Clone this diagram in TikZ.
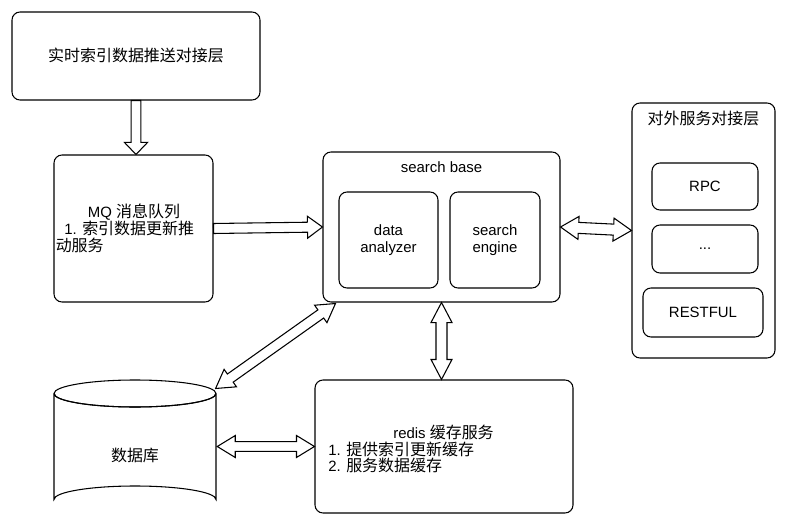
\documentclass[tikz,border=0pt]{standalone}
\usepackage{fontspec}
\setmainfont{Liberation Sans}
\newfontfamily\zh[Scale=1.07]{Noto Sans CJK SC}
\usetikzlibrary{calc}
\tikzset{
  rbox/.style={draw, line width=0.8pt, rounded corners=6pt, inner sep=0pt},
  barrow/.style={draw, line width=0.8pt, fill=white, line join=miter},
  txt/.style={inner sep=0pt, font=\fontsize{11.2}{12.4}\selectfont},
}
% double block arrow: from, to, head length, head half width, shaft half width (px)
\newcommand\dblarrow[5]{%
  \draw[barrow] let \p1=(#1), \p2=(#2), \n1={atan2(\y2-\y1,\x2-\x1)},
    \n2={veclen(\x2-\x1,\y2-\y1)} in [shift={(\p1)}, rotate=\n1]
    (0pt,0pt) -- ({#3*0.75pt},{#4*0.75pt}) -- ({#3*0.75pt},{#5*0.75pt})
    -- ({\n2-#3*0.75pt},{#5*0.75pt}) -- ({\n2-#3*0.75pt},{#4*0.75pt})
    -- ({\n2+0pt},0pt) -- ({\n2-#3*0.75pt},{-#4*0.75pt})
    -- ({\n2-#3*0.75pt},{-#5*0.75pt}) -- ({#3*0.75pt},{-#5*0.75pt})
    -- ({#3*0.75pt},{-#4*0.75pt}) -- cycle;}
% single block arrow
\newcommand\sglarrow[5]{%
  \draw[barrow] let \p1=(#1), \p2=(#2), \n1={atan2(\y2-\y1,\x2-\x1)},
    \n2={veclen(\x2-\x1,\y2-\y1)} in [shift={(\p1)}, rotate=\n1]
    (0pt,{#5*0.75pt}) -- ({\n2-#3*0.75pt},{#5*0.75pt}) -- ({\n2-#3*0.75pt},{#4*0.75pt})
    -- ({\n2+0pt},0pt) -- ({\n2-#3*0.75pt},{-#4*0.75pt})
    -- ({\n2-#3*0.75pt},{-#5*0.75pt}) -- (0pt,{-#5*0.75pt}) -- cycle;}
\begin{document}
\begin{tikzpicture}[x=0.75pt, y=-0.75pt]
\useasboundingbox (0,0) rectangle (785,524);
% boxes
\node[rbox, minimum width={248*0.75pt}, minimum height={88*0.75pt}] (tp) at (136,56) {};
\node[txt] (tpt) at (136,55) {\zh 实时索引数据推送对接层};

\node[rbox, minimum width={159*0.75pt}, minimum height={147*0.75pt}] (mq) at (133.5,228.5) {};
\node[txt] (mqt1) at (134,212) {MQ {\zh 消息队列}};
\node[txt, anchor=west] (mqt2) at (64,228.5) {1. {\zh 索引数据更新推}};
\node[txt, anchor=west] (mqt3) at (55.5,245) {\zh 动服务};

\node[rbox, minimum width={237*0.75pt}, minimum height={150*0.75pt}] (sb) at (441.5,227) {};
\node[txt] (sbt) at (441.5,167) {search base};
\node[rbox, minimum width={99*0.75pt}, minimum height={96*0.75pt}] (da) at (388.5,240) {};
\node[txt, align=center] (dat) at (da.center) {data\\analyzer};
\node[rbox, minimum width={90*0.75pt}, minimum height={96*0.75pt}] (se) at (495,240) {};
\node[txt, align=center] (set) at (se.center) {search\\engine};

\node[rbox, minimum width={143*0.75pt}, minimum height={255*0.75pt}] (ext) at (703.5,230.5) {};
\node[txt] (extt) at (703.5,118) {\zh 对外服务对接层};
\node[rbox, minimum width={106*0.75pt}, minimum height={47*0.75pt}] (rpc) at (705,186.5) {};
\node[txt] (rpct) at (rpc.center) {RPC};
\node[rbox, minimum width={106*0.75pt}, minimum height={48*0.75pt}] (dots) at (705,249) {};
\node[txt] (dotst) at (dots.center) {...};
\node[rbox, minimum width={120*0.75pt}, minimum height={49*0.75pt}] (rest) at (703,312.5) {};
\node[txt] (restt) at (rest.center) {RESTFUL};

\node[rbox, minimum width={258*0.75pt}, minimum height={133*0.75pt}] (redis) at (444,446.5) {};
\node[txt] (rt1) at (443.5,432) {redis {\zh 缓存服务}};
\node[txt, anchor=west] (rt2) at (328,449) {1. {\zh 提供索引更新缓存}};
\node[txt, anchor=west] (rt3) at (328,465.5) {2. {\zh 服务数据缓存}};

% database cylinder
\node[inner sep=0pt, minimum width={162*0.75pt}, minimum height={133*0.75pt}] (db) at (135,446.5) {};
\draw[line width=0.8pt] (54,393.5) -- (54,499.5) arc[start angle=180, end angle=360, x radius=81, y radius=13.5]
  -- (216,393.5) arc[start angle=0, end angle=-360, x radius=81, y radius=13.5];
\draw[line width=0.8pt] (54,393.5) arc[start angle=180, end angle=360, x radius=81, y radius=-13.5];
\node[txt] (dbt) at (135,455) {\zh 数据库};

% connectors
\coordinate (a1s) at (tp.south);
\coordinate (a1e) at (tp.south |- mq.north);
\sglarrow{a1s}{a1e}{12}{11.5}{4.8}
\sglarrow{mq.east}{sb.west}{15}{11}{5}
\dblarrow{sb.east}{ext.west}{18}{11.5}{5.5}
\coordinate (a4e) at (sb.south |- redis.north);
\dblarrow{sb.south}{a4e}{20}{10.5}{5.5}
\coordinate (a5s) at ($(sb.south west)+(13,1)$);
\coordinate (a5e) at ($(db.north east)+(-1,9)$);
\dblarrow{a5s}{a5e}{18}{10.7}{5}
\coordinate (a6s) at ($(db.east)+(1,0)$);
\dblarrow{a6s}{redis.west}{18}{11}{4.8}
\end{tikzpicture}
\end{document}
